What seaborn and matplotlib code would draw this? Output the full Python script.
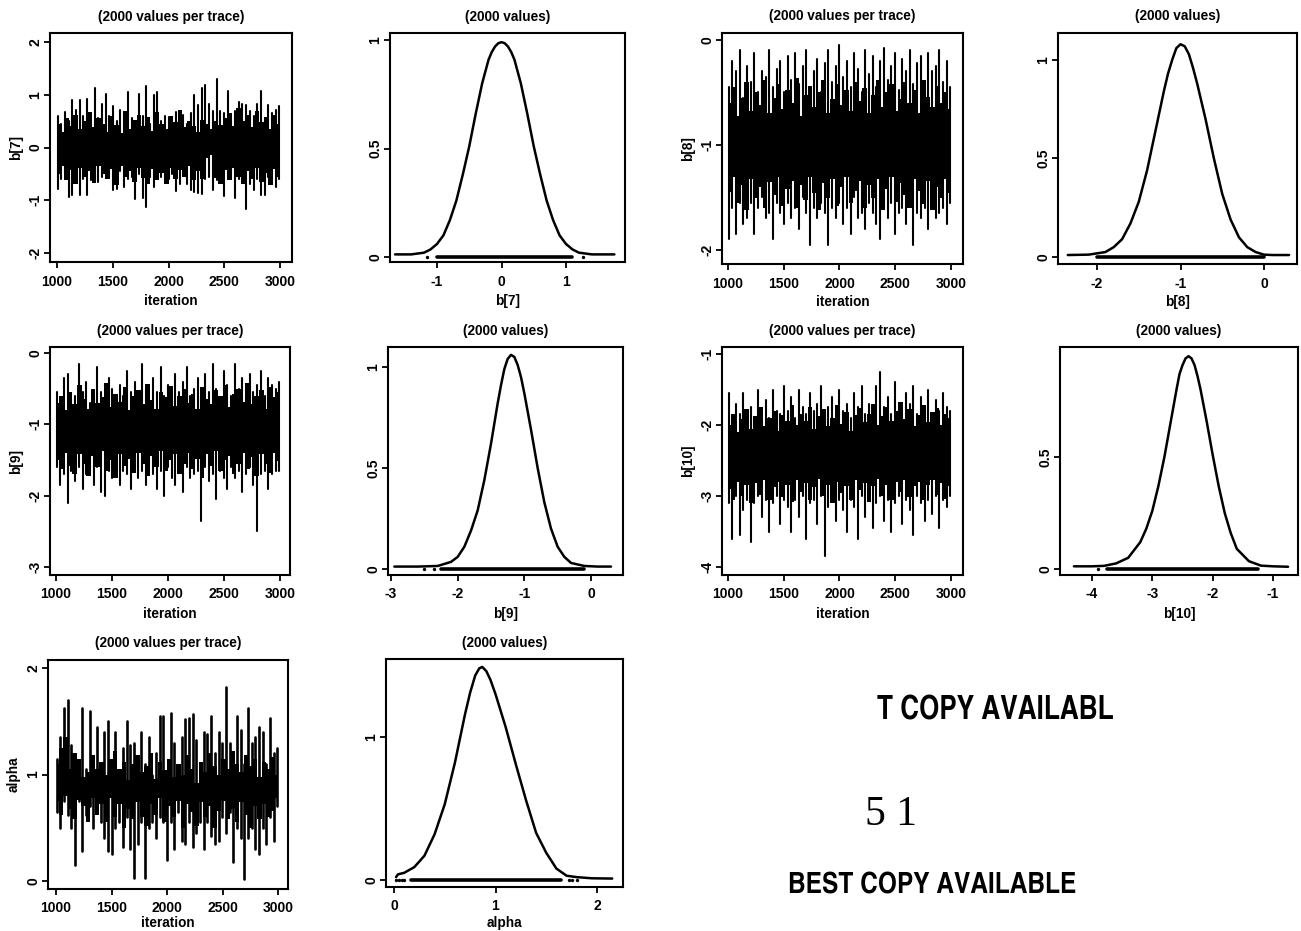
import numpy as np
import pandas as pd
import matplotlib
matplotlib.use("Agg")
import matplotlib.pyplot as plt
import seaborn as sns

sns.set_theme(style="ticks")
plt.rcParams['font.family'] = ['Liberation Sans', 'DejaVu Sans']
plt.rcParams['font.weight'] = 'bold'

# ---------- trace data: upper and lower excursions ----------
b7_hi = [.60,.45,.68,.50,.90,.72,.90,.60,.92,.35,
         1.13,.55,.82,1.02,.60,.78,.50,.72,.65,1.05,
         .55,.50,1.02,.60,1.17,.45,1.00,1.05,.50,.60,
         .58,.50,.68,.55,.62,.45,.65,1.00,.80,1.12,
         1.18,.82,.70,1.30,.70,.65,1.07,.55,.70,.87,
         .82,.80,.70,.60,.82,1.07,.55,.80,.65,.72,.78]
b7_lo = [-.78,-.60,-.50,-.93,-.90,-.55,-.90,-.60,-.90,-.62,
         -.60,-.65,-.55,-.50,-.55,-.80,-.78,-.45,-.75,-.60,
         -.55,-.98,-.50,-.95,-1.13,-.55,-.75,-.60,-.55,-.62,
         -.60,-.50,-.82,-.70,-.30,-.70,-.80,-.85,-.87,-.88,
         -.60,-.55,-.80,-.62,-.55,-.92,-.60,-.50,-.95,-.60,
         -.55,-1.17,-.70,-.80,-.60,-.90,-.90,-.55,-.62,-.75,-.60]
b8_hi = [-.45,-.20,-.30,-.10,-.55,-.25,-.40,-.12,-.50,-.30,
         -.35,-.10,-.45,-.28,-.20,-.50,-.15,-.38,-.12,-.42,
         -.25,-.10,-.45,-.30,-.18,-.50,-.22,-.10,-.40,-.25,
         -.05,-.35,-.20,-.45,-.12,-.28,-.50,-.10,-.32,-.15,
         -.45,-.20,-.08,-.38,-.25,-.12,-.48,-.18,-.30,-.10,
         -.42,-.22,-.15,-.50,-.12,-.30,-.25,-.10,-.40,-.20,-.45]
b8_lo = [-1.90,-1.60,-1.85,-1.55,-1.75,-1.70,-1.55,-1.85,-1.60,-1.50,
         -1.70,-1.65,-1.90,-1.55,-1.65,-1.75,-1.55,-1.70,-1.60,-1.80,
         -1.50,-1.65,-1.95,-1.60,-1.70,-1.55,-1.65,-1.95,-1.60,-1.70,
         -1.55,-1.75,-1.60,-1.85,-1.50,-1.70,-1.65,-1.80,-1.55,-1.65,
         -1.75,-1.90,-1.60,-1.70,-1.55,-1.85,-1.65,-1.60,-1.75,-1.55,
         -1.95,-1.65,-1.70,-1.60,-1.80,-1.55,-1.70,-1.65,-1.60,-1.75,-1.55]
b9_hi = [-.55,-.70,-.35,-.30,-.65,-.60,-.15,-.55,-.40,-.70,
         -.60,-.20,-.55,-.65,-.35,-.50,-.70,-.45,-.60,-.25,
         -.55,-.40,-.60,-.15,-.50,-.65,-.35,-.55,-.20,-.60,
         -.45,-.65,-.30,-.55,-.40,-.20,-.60,-.50,-.35,-.60,
         -.30,-.55,-.15,-.50,-.65,-.25,-.45,-.60,-.15,-.50,
         -.35,-.60,-.30,-.55,-.45,-.25,-.60,-.35,-.45,-.50,-.40]
b9_lo = [-1.60,-1.85,-1.70,-2.10,-1.65,-1.80,-1.60,-1.90,-1.70,-1.65,
         -1.85,-1.60,-1.95,-2.00,-1.65,-1.75,-1.60,-1.85,-1.65,-1.70,
         -1.90,-1.60,-1.75,-1.65,-1.85,-1.60,-1.70,-1.90,-1.65,-2.00,
         -1.60,-1.75,-1.85,-1.65,-1.95,-1.60,-1.75,-1.70,-1.65,-2.35,
         -1.60,-1.80,-1.70,-2.05,-1.65,-1.75,-1.90,-1.60,-1.75,-1.65,
         -1.95,-1.70,-1.60,-1.85,-2.50,-1.70,-1.65,-1.90,-1.70,-1.65,-1.65]
b10_hi = [-1.55,-1.90,-1.70,-1.85,-1.55,-1.80,-1.75,-1.90,-1.50,-1.85,
          -1.65,-1.90,-1.50,-1.80,-1.85,-1.45,-1.80,-1.60,-1.90,-1.50,
          -1.75,-1.85,-1.55,-1.80,-1.70,-1.45,-1.85,-1.75,-1.60,-1.85,
          -1.50,-1.80,-1.70,-1.90,-1.55,-1.75,-1.45,-1.85,-1.70,-1.80,
          -1.45,-1.25,-1.75,-1.60,-1.85,-1.40,-1.75,-1.85,-1.55,-1.70,
          -1.45,-1.85,-1.60,-1.75,-1.50,-1.85,-1.65,-1.80,-1.55,-1.75,-1.80]
b10_lo = [-3.10,-3.60,-3.00,-3.55,-3.20,-3.05,-3.65,-3.10,-3.00,-3.30,
          -3.05,-3.50,-3.10,-3.00,-3.40,-3.05,-3.15,-3.50,-3.05,-3.30,
          -3.00,-3.60,-3.10,-3.05,-3.40,-3.00,-3.85,-3.15,-3.00,-3.35,
          -3.05,-3.20,-3.50,-3.05,-3.15,-3.60,-3.00,-3.30,-3.05,-3.45,
          -3.10,-3.00,-3.35,-3.05,-3.50,-3.10,-3.00,-3.40,-3.05,-3.20,
          -3.55,-3.00,-3.10,-3.35,-3.05,-3.25,-3.00,-3.45,-3.05,-3.15,-3.00]
alpha_hi = [1.15,1.35,1.62,1.70,1.28,1.00,1.05,1.62,1.05,1.60,
            1.10,1.45,1.00,1.40,1.50,1.10,1.40,1.00,1.25,1.50,
            1.28,1.30,1.00,1.40,1.10,1.35,1.00,1.20,1.55,1.55,
            1.00,1.58,1.30,1.00,1.35,1.52,1.53,1.57,1.32,1.10,
            1.40,1.38,1.55,1.20,1.40,1.30,1.82,1.30,1.10,1.55,
            1.42,1.10,1.62,1.30,1.35,1.45,1.40,1.10,1.53,1.20,1.25]
alpha_lo = [.65,.50,.75,.62,.50,.15,.75,.28,.62,.70,
            .50,.65,.55,.40,.28,.25,.50,.55,.32,.60,
            .30,.03,.35,.55,.03,.50,.55,.40,.60,.55,
            .20,.55,.30,.65,.38,.35,.55,.32,.45,.55,
            .30,.55,.42,.35,.38,.60,.45,.65,.18,.50,
            .40,.02,.40,.50,.30,.25,.50,.35,.60,.38,.70]

# ---------- dense body of each trace, upper and lower edge ----------
b7_core_hi = [.45,.30,.55,.40,.62,.35,.50,.68,.38,.55,.45,.30,.60,.42,.28,.70,.35,.52,.62,.40,.58,.32,.68,.45,.35,
              .60,.48,.72,.38,.50,.40,.30,.52,.44,.36,.50,.42,.55,.66,.40,.75,.50,.62,.38,.70,.48,.58,.35,.62,.45]
b7_core_lo = [-.50,-.35,-.62,-.42,-.70,-.38,-.55,-.45,-.68,-.35,-.50,-.60,-.40,-.72,-.36,-.55,-.45,-.65,-.38,-.58,-.70,-.40,-.62,-.48,-.70,
              -.38,-.60,-.42,-.55,-.35,-.62,-.45,-.60,-.20,-.15,-.58,-.70,-.42,-.62,-.38,-.55,-.70,-.45,-.60,-.38,-.65,-.48,-.72,-.40,-.55]
b8_core_hi = [-.60,-.45,-.72,-.55,-.40,-.68,-.50,-.62,-.38,-.70,-.55,-.42,-.66,-.48,-.60,-.36,-.72,-.52,-.44,-.64,-.50,-.38,-.70,-.56,-.42,
              -.62,-.48,-.68,-.40,-.58,-.46,-.70,-.52,-.38,-.64,-.50,-.42,-.68,-.56,-.40,-.60,-.48,-.70,-.38,-.54,-.64,-.44,-.60,-.50,-.66]
b8_core_lo = [-1.45,-1.30,-1.55,-1.38,-1.62,-1.32,-1.50,-1.40,-1.60,-1.35,-1.48,-1.30,-1.58,-1.42,-1.34,-1.60,-1.38,-1.52,-1.30,-1.46,-1.62,-1.36,-1.50,-1.32,-1.58,
              -1.40,-1.30,-1.55,-1.44,-1.34,-1.60,-1.38,-1.50,-1.32,-1.62,-1.42,-1.30,-1.54,-1.36,-1.48,-1.60,-1.32,-1.44,-1.56,-1.34,-1.62,-1.40,-1.50,-1.32,-1.46]
b9_core_hi = [-.70,-.60,-.80,-.55,-.72,-.45,-.65,-.78,-.50,-.70,-.62,-.42,-.75,-.58,-.68,-.48,-.80,-.60,-.52,-.72,-.44,-.66,-.78,-.55,-.62,
              -.46,-.74,-.60,-.50,-.70,-.58,-.78,-.48,-.64,-.72,-.52,-.60,-.45,-.76,-.58,-.50,-.68,-.42,-.72,-.60,-.52,-.78,-.48,-.62,-.55]
b9_core_lo = [-1.50,-1.62,-1.40,-1.58,-1.70,-1.42,-1.55,-1.72,-1.45,-1.60,-1.38,-1.66,-1.50,-1.75,-1.42,-1.58,-1.48,-1.68,-1.40,-1.55,-1.72,-1.44,-1.60,-1.38,-1.66,
              -1.50,-1.42,-1.70,-1.55,-1.40,-1.62,-1.48,-1.75,-1.42,-1.58,-1.38,-1.66,-1.50,-1.44,-1.70,-1.55,-1.40,-1.62,-1.46,-1.72,-1.42,-1.56,-1.68,-1.40,-1.52]
b10_core_hi = [-2.00,-1.85,-2.10,-1.92,-1.78,-2.05,-1.88,-1.75,-2.02,-1.90,-1.80,-2.08,-1.86,-1.95,-1.72,-2.00,-1.84,-1.94,-1.75,-2.05,-1.88,-1.78,-2.02,-1.90,-1.72,
               -1.98,-1.82,-2.08,-1.86,-1.76,-1.96,-1.84,-1.70,-2.00,-1.88,-1.74,-1.95,-1.80,-1.68,-1.92,-1.78,-2.02,-1.86,-1.72,-1.96,-1.82,-1.76,-2.00,-1.85,-1.90]
b10_core_lo = [-2.90,-3.05,-2.80,-3.00,-2.85,-3.10,-2.82,-2.98,-2.78,-3.05,-2.88,-2.80,-3.02,-2.85,-3.08,-2.78,-2.95,-2.82,-3.05,-2.88,-2.76,-3.00,-2.84,-3.10,-2.80,
               -2.96,-2.86,-3.05,-2.78,-2.92,-2.82,-3.08,-2.86,-2.76,-3.00,-2.84,-3.05,-2.80,-2.94,-2.78,-3.02,-2.86,-2.80,-3.06,-2.84,-2.78,-2.98,-2.82,-3.04,-2.86]
alpha_core_hi = [1.10,1.25,1.35,1.05,1.20,1.15,.98,1.02,1.18,1.05,1.12,1.00,1.15,1.22,1.05,1.12,.95,1.10,1.18,1.02,1.08,1.20,.96,1.12,1.04,
                 1.15,.98,1.10,1.00,1.18,1.05,.92,1.12,1.02,1.20,1.08,1.00,1.15,1.05,1.22,1.10,1.02,1.18,1.08,1.15,.98,1.12,1.05,1.16,1.00]
alpha_core_lo = [.75,.62,.80,.68,.58,.76,.70,.55,.78,.62,.72,.55,.78,.60,.72,.50,.68,.58,.74,.60,.52,.72,.62,.78,.55,
                 .70,.60,.75,.50,.72,.65,.52,.74,.60,.70,.50,.66,.75,.58,.68,.55,.74,.62,.50,.70,.58,.72,.60,.66,.78]

# ---------- density curves ----------
b7_x = [-1.65,-1.4,-1.2,-1.1,-1.0,-.9,-.8,-.7,-.6,-.5,-.4,-.3,-.2,-.15,-.1,-.05,0,.05,.1,.15,.2,.3,.4,.5,.6,.7,.8,.9,1.0,1.1,1.2,1.4,1.75]
b7_y = [.012,.012,.02,.035,.06,.10,.17,.26,.38,.51,.66,.80,.91,.945,.97,.985,.99,.985,.97,.945,.91,.80,.66,.51,.38,.26,.17,.10,.06,.035,.02,.012,.012]
b8_x = [-2.35,-2.1,-1.9,-1.8,-1.7,-1.6,-1.5,-1.4,-1.3,-1.2,-1.15,-1.1,-1.05,-1.0,-.95,-.9,-.85,-.8,-.7,-.6,-.5,-.4,-.3,-.2,-.1,0,.1,.3]
b8_y = [.01,.012,.025,.05,.09,.17,.28,.44,.64,.84,.93,1.0,1.06,1.08,1.07,1.03,.96,.88,.70,.50,.32,.19,.10,.05,.025,.012,.01,.01]
b9_x = [-2.95,-2.6,-2.3,-2.1,-2.0,-1.9,-1.8,-1.7,-1.6,-1.5,-1.4,-1.35,-1.3,-1.25,-1.2,-1.15,-1.1,-1.05,-1.0,-.9,-.8,-.7,-.6,-.5,-.4,-.3,-.1,.1,.3]
b9_y = [.012,.012,.015,.035,.06,.11,.19,.29,.44,.62,.82,.91,.99,1.04,1.06,1.05,1.01,.95,.87,.69,.50,.33,.20,.11,.06,.03,.015,.012,.012]
b10_x = [-4.3,-4.0,-3.8,-3.6,-3.4,-3.2,-3.1,-3.0,-2.9,-2.8,-2.7,-2.6,-2.55,-2.5,-2.45,-2.4,-2.35,-2.3,-2.25,-2.2,-2.1,-2.0,-1.9,-1.8,-1.7,-1.6,-1.4,-1.2,-1.0,-.75]
b10_y = [.012,.012,.014,.025,.05,.12,.18,.26,.37,.50,.65,.80,.87,.91,.94,.95,.94,.91,.86,.80,.66,.51,.37,.25,.16,.09,.035,.015,.012,.01]
alpha_x = [.02,.04,.1,.2,.3,.4,.5,.6,.7,.75,.8,.84,.87,.91,.95,1.0,1.1,1.2,1.3,1.4,1.5,1.6,1.7,1.8,1.95,2.15]
alpha_y = [.02,.04,.05,.09,.17,.32,.53,.82,1.16,1.31,1.43,1.48,1.49,1.46,1.40,1.30,1.07,.81,.56,.33,.19,.08,.03,.02,.012,.01]

# ---------- rug extents and isolated rug marks ----------
b7_rug, b7_dots = [-1.0, 1.1], [-1.15, 1.27]
b8_rug, b8_dots = [-2.0, 0.0], []
b9_rug, b9_dots = [-2.25, -0.1], [-2.5, -2.35]
b10_rug, b10_dots = [-3.75, -1.25], [-3.9]
alpha_rug, alpha_dots = [0.17, 1.65], [.02, .05, .08, .1, 1.72, 1.75, 1.8]

iter_ticks = [1000, 1500, 2000, 2500, 3000]
W, H = 1301, 931
fig = plt.figure(figsize=(W / 100, H / 100), dpi=100, facecolor="white")


def make_axes(box):
    l, t, r, b = box
    ax = fig.add_axes([l / W, 1 - b / H, (r - l) / W, (b - t) / H])
    ax.set_facecolor("white")
    for s in ax.spines.values():
        s.set_visible(True)
        s.set_linewidth(1.5)
        s.set_color("black")
    return ax


def limits(v1, p1, v2, p2, pa, pb):
    k = (v2 - v1) / (p2 - p1)
    return v1 + (pa - p1) * k, v1 + (pb - p1) * k


def style(ax, box, xt, xt_px, yt, yt_px, title, xlabel, ylabel, xpad):
    l, t, r, b = box
    ax.set_xlim(*limits(xt[0], xt_px[0], xt[-1], xt_px[1], l, r))
    ax.set_ylim(*limits(yt[0], yt_px[0], yt[-1], yt_px[1], b, t))
    ax.set_xticks(xt)
    ax.set_xticklabels([str(v) for v in xt], fontsize=10, fontweight="bold")
    ax.set_yticks(yt)
    ax.set_yticklabels([str(v) for v in yt], fontsize=10, fontweight="bold",
                       rotation=90, va="center")
    ax.tick_params(axis="both", length=4, width=1.3, color="black", labelcolor="black")
    ax.tick_params(axis="x", pad=5)
    ax.tick_params(axis="y", pad=1.5)
    ax.set_title(title, fontsize=9.8, fontweight="bold", pad=9, color="black")
    ax.set_xlabel(xlabel, fontsize=9.8, fontweight="bold", labelpad=xpad, color="black")
    ax.set_ylabel(ylabel, fontsize=9.8, fontweight="bold", labelpad=4, color="black")


def trace(box, hi, lo, core_hi, core_lo, yt, yt_px, xt_px, name, lw=1.5, xpad=4):
    ax = make_axes(box)
    iters = np.linspace(1005, 2995, len(hi))
    df = pd.DataFrame({
        "iteration": np.repeat(iters, 2),
        "value": np.ravel(np.column_stack([hi, lo])),
        "step": np.repeat(np.arange(len(hi)), 2),
    })
    sns.lineplot(data=df, x="iteration", y="value", units="step", estimator=None,
                 ax=ax, color="black", lw=lw, sort=False)
    ax.fill_between(np.linspace(1005, 2995, len(core_hi)), core_lo, core_hi,
                    color="black", lw=0, step="mid")
    style(ax, box, iter_ticks, xt_px, yt, yt_px, "(2000 values per trace)", "iteration", name, xpad)


def density(box, cx, cy, rug, dots, xt, xt_px, yt, yt_px, name, xpad=4):
    ax = make_axes(box)
    sns.lineplot(x=cx, y=cy, ax=ax, color="black", lw=1.8, sort=False, estimator=None,
                 solid_joinstyle="round")
    sns.lineplot(x=rug, y=[0, 0], ax=ax, color="black", lw=2.6, sort=False, estimator=None)
    if dots:
        sns.scatterplot(x=dots, y=[0] * len(dots), ax=ax, color="black", s=6, linewidth=0)
    style(ax, box, xt, xt_px, yt, yt_px, "(2000 values)", name, "", xpad)


trace((50, 33, 292, 262), b7_hi, b7_lo, b7_core_hi, b7_core_lo, [-2, -1, 0, 1, 2], (253, 42), (57, 280), "b[7]")
density((390, 33, 625, 262), b7_x, b7_y, b7_rug, b7_dots, [-1, 0, 1], (437, 566), [0, 0.5, 1], (257, 40), "b[7]")
trace((722, 33, 963, 264), b8_hi, b8_lo, b8_core_hi, b8_core_lo, [-2, -1, 0], (250, 40), (728, 951), "b[8]", xpad=3)
density((1058, 33, 1297, 264), b8_x, b8_y, b8_rug, b8_dots, [-2, -1, 0], (1097, 1264), [0, 0.5, 1], (257, 60), "b[8]", xpad=3)

trace((50, 347, 290, 575), b9_hi, b9_lo, b9_core_hi, b9_core_lo, [-3, -2, -1, 0], (567, 353), (56, 280), "b[9]")
density((388, 347, 623, 575), b9_x, b9_y, b9_rug, b9_dots, [-3, -2, -1, 0], (391, 591), [0, 0.5, 1], (569, 367), "b[9]")
trace((722, 347, 963, 575), b10_hi, b10_lo, b10_core_hi, b10_core_lo, [-4, -3, -2, -1], (567, 354), (728, 951), "b[10]")
density((1060, 347, 1298, 575), b10_x, b10_y, b10_rug, b10_dots, [-4, -3, -2, -1], (1092, 1273), [0, 0.5], (569, 457), "b[10]")

trace((48, 660, 288, 889), alpha_hi, alpha_lo, alpha_core_hi, alpha_core_lo, [0, 1, 2], (881, 668), (56, 278), "alpha", lw=1.9, xpad=0.5)
density((386, 659, 623, 887), alpha_x, alpha_y, alpha_rug, alpha_dots, [0, 1, 2], (394, 597), [0, 1], (880, 737), "alpha", xpad=1.5)

narrow = ['TeX Gyre Heros Cn', 'Liberation Sans', 'DejaVu Sans']
fig.text(1114 / W, 1 - 711 / H, "T COPY AVAILABL", ha="right", va="center", fontsize=23,
         family=narrow, fontweight="bold", color="black")
fig.text(891 / W, 1 - 815 / H, "5 1", ha="center", va="center", fontsize=30,
         family=['Liberation Serif', 'DejaVu Serif'], fontweight="normal", color="black")
fig.text(932 / W, 1 - 886 / H, "BEST COPY AVAILABLE", ha="center", va="center", fontsize=21.5,
         family=narrow, fontweight="bold", color="black")

fig.savefig("out.png", dpi=100, facecolor="white")
